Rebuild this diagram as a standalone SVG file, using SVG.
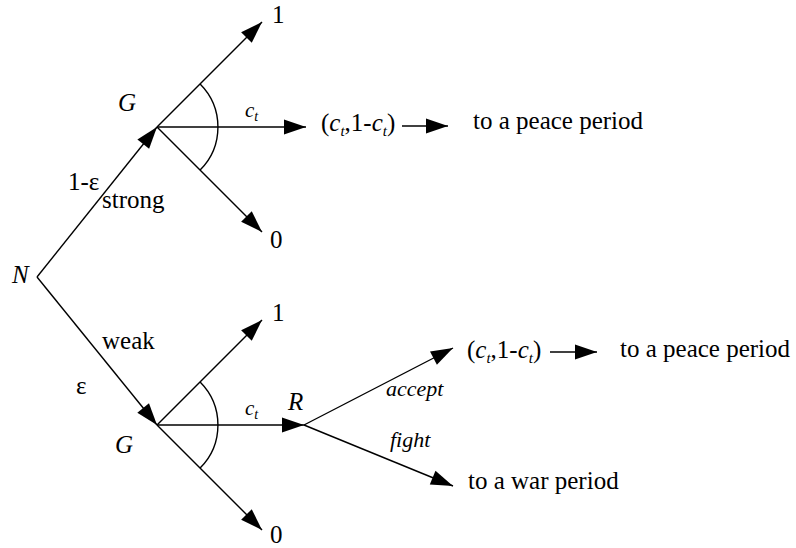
<svg xmlns="http://www.w3.org/2000/svg" width="796" height="548" viewBox="0 0 796 548" font-family="'Liberation Serif','Times New Roman','DejaVu Serif',Times,serif">
<style>
.e{stroke:#000;stroke-width:1.4;fill:none}
.ea{stroke:#000;stroke-width:1.4;fill:none;marker-end:url(#ah)}
text{font-family:'Liberation Serif','Times New Roman','DejaVu Serif',Times,serif;fill:#000}
.t{font-size:25px}
.l{font-size:22px}
.s{font-size:21px}
.i{font-style:italic}
</style>
<defs>
<marker id="ah" markerUnits="userSpaceOnUse" markerWidth="22" markerHeight="16" refX="22" refY="8" orient="auto" overflow="visible">
<path d="M0,0.5 L22,8 L0,15.5 Z" fill="#000"/>
</marker>
</defs>
<rect width="796" height="548" fill="#fff"/>
<g id="connectors">
<line class="ea" x1="37" y1="277" x2="157" y2="127"/>
<line class="ea" x1="37" y1="277" x2="157" y2="425"/>
<line class="ea" x1="157" y1="127" x2="262" y2="22"/>
<line class="ea" x1="157" y1="127" x2="306" y2="127"/>
<line class="ea" x1="157" y1="127" x2="262" y2="232"/>
<path class="e" d="M200.1,83.9 A61,61 0 0 1 200.1,170.1"/>
<line class="ea" x1="157" y1="425" x2="262" y2="320"/>
<line class="ea" x1="157" y1="425" x2="304" y2="425"/>
<line class="ea" x1="157" y1="425" x2="262" y2="530"/>
<path class="e" d="M200.1,381.9 A61,61 0 0 1 200.1,468.1"/>
<line class="ea" x1="304" y1="425" x2="453" y2="348"/>
<line class="ea" x1="304" y1="425" x2="453" y2="486"/>
<line class="ea" x1="402" y1="126" x2="448" y2="126"/>
<line class="ea" x1="550" y1="352" x2="597" y2="352"/>
<text class="s i" x="245" y="117">c<tspan font-size="14" dy="4">t</tspan></text>
<text class="s i" x="245" y="415">c<tspan font-size="14" dy="4">t</tspan></text>
<text class="t" x="68" y="190">1-ε</text>
<text class="t" x="102" y="208">strong</text>
<text class="t" x="102" y="349">weak</text>
<text class="t" x="76" y="394">ε</text>
<text class="l i" x="386" y="396">accept</text>
<text class="l i" x="390" y="447">fight</text>
</g>
<g id="node-N"><text class="t i" x="12" y="283">N</text></g>
<g id="node-G1"><text class="t i" x="118" y="111">G</text></g>
<g id="node-G2"><text class="t i" x="115" y="453">G</text></g>
<g id="node-R"><text class="t i" x="288" y="410">R</text></g>
<g id="leaf-top-1"><text class="t" x="272" y="23">1</text></g>
<g id="leaf-top-0"><text class="t" x="270" y="248">0</text></g>
<g id="leaf-bot-1"><text class="t" x="272" y="321">1</text></g>
<g id="leaf-bot-0"><text class="t" x="270" y="543">0</text></g>
<g id="payoff-top"><text class="t" x="321" y="131">(<tspan class="i">c</tspan><tspan class="i" font-size="15" dy="5">t</tspan><tspan dy="-5">,1-</tspan><tspan class="i">c</tspan><tspan class="i" font-size="15" dy="5">t</tspan><tspan dy="-5">)</tspan></text></g>
<g id="peace-top"><text class="t" x="473" y="129">to a peace period</text></g>
<g id="payoff-bot"><text class="t" x="467" y="358">(<tspan class="i">c</tspan><tspan class="i" font-size="15" dy="5">t</tspan><tspan dy="-5">,1-</tspan><tspan class="i">c</tspan><tspan class="i" font-size="15" dy="5">t</tspan><tspan dy="-5">)</tspan></text></g>
<g id="peace-bot"><text class="t" x="620" y="357">to a peace period</text></g>
<g id="war"><text class="t" x="468" y="489">to a war period</text></g>
</svg>
